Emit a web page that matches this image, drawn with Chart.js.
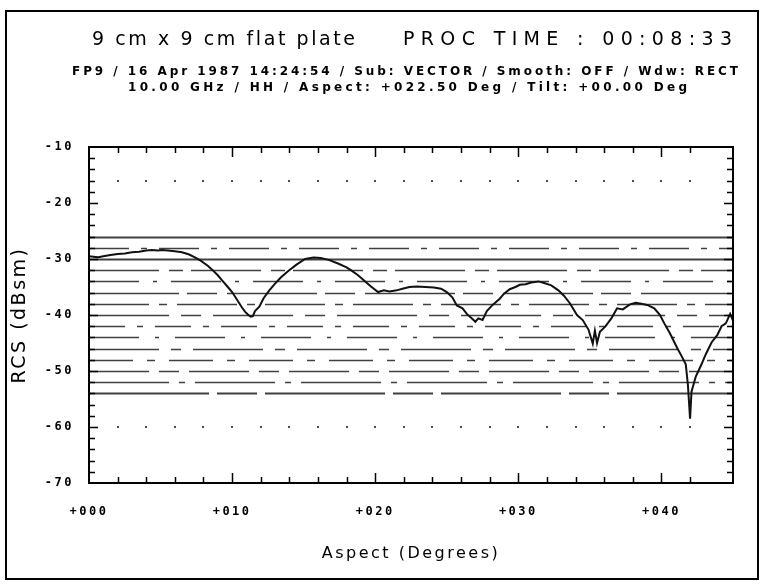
<!DOCTYPE html>
<html>
<head>
<meta charset="utf-8">
<script src="https://cdn.jsdelivr.net/npm/chart.js@4.4.1/dist/chart.umd.min.js"></script>
<style>
  html, body { margin: 0; padding: 0; background: #ffffff; }
  #wrap { position: relative; width: 763px; height: 586px; }
  canvas { display: block; }
</style>
</head>
<body>
<div id="wrap"><canvas id="c" width="763" height="586"></canvas></div>
<script>
// ---- data ----
const aspectDeg = [0, 0.3, 0.65, 1.0, 1.5, 2.0, 2.5, 3.0, 3.5, 4.0, 4.4, 4.8, 5.1, 5.5, 6.0, 6.5, 7.0, 7.4, 7.8, 8.3,
  8.6, 9.0, 9.3, 9.7, 10.0, 10.4, 10.7, 10.9, 11.1, 11.3, 11.45, 11.6, 11.9, 12.2, 12.6, 13.0, 13.4, 13.9, 14.5, 15.1,
  15.7, 16.2, 16.8, 17.4, 18.0, 18.3, 18.8, 19.2, 19.7, 20.2, 20.6, 21.0, 21.5, 21.9, 22.4, 22.9, 23.5, 24.1, 24.6, 25.0,
  25.4, 25.7, 26.1, 26.4, 26.7, 27.0, 27.2, 27.5, 27.8, 28.2, 28.7, 29.0, 29.4, 29.8, 30.1, 30.5, 30.9, 31.4, 31.8, 32.3,
  32.8, 33.2, 33.6, 34.1, 34.5, 34.9, 35.2, 35.35, 35.5, 35.7, 36.1, 36.5, 36.9, 37.3, 37.8, 38.2, 38.6, 39.0, 39.5, 39.9,
  40.2, 40.6, 41.1, 41.4, 41.7, 41.85, 42.0, 42.1, 42.4, 42.8, 43.1, 43.5, 43.9, 44.2, 44.5, 44.8, 45.0];
const rcsDbsm = [-29.5, -29.6, -29.7, -29.5, -29.3, -29.1, -29.0, -28.8, -28.7, -28.5, -28.4, -28.5, -28.4, -28.5, -28.6, -28.8, -29.2, -29.7, -30.3, -31.2,
  -31.9, -32.9, -33.8, -35.0, -35.9, -37.5, -38.7, -39.4, -39.9, -40.3, -40.2, -39.3, -38.5, -37.0, -35.6, -34.4, -33.3, -32.2, -31.0, -30.0,
  -29.75, -29.8, -30.2, -30.8, -31.5, -32.0, -32.9, -33.8, -34.9, -35.9, -35.6, -35.8, -35.6, -35.3, -35.0, -34.9, -35.0, -35.1, -35.3, -35.9,
  -36.9, -38.3, -38.8, -39.8, -40.5, -41.2, -40.6, -40.9, -39.3, -38.2, -37.1, -36.2, -35.4, -35.0, -34.6, -34.5, -34.2, -34.0, -34.3, -34.7,
  -35.6, -36.6, -37.9, -40.0, -40.9, -42.6, -45.1, -42.8, -45.0, -43.0, -42.0, -40.6, -38.8, -39.0, -38.1, -37.8, -38.0, -38.2, -38.8, -40.0,
  -41.5, -43.3, -45.9, -47.3, -48.8, -52.5, -58.5, -53.7, -51.0, -48.8, -47.0, -44.9, -43.6, -42.0, -41.5, -39.8, -41.0];

const xTickValues = [0, 10, 20, 30, 40];
const xTickLabels = ['+000', '+010', '+020', '+030', '+040'];
const yTickValues = [-10, -20, -30, -40, -50, -60, -70];
const yTickLabels = ['-10', '-20', '-30', '-40', '-50', '-60', '-70'];
// horizontal scan streaks and dot rows visible in the scanned original (dB levels)
const scanLineLevels = [-26, -28, -30, -32, -34, -36, -38, -40, -42, -44, -46, -48, -50, -52, -54];
const dotRowLevels = [-16, -60];

const titleText = ['9 cm x 9 cm flat plate', 'PROC TIME : 00:08:33'];
const subtitleLines = ['FP9 / 16 Apr 1987 14:24:54 / Sub: VECTOR / Smooth: OFF / Wdw: RECT',
                       '10.00 GHz / HH / Aspect: +022.50 Deg / Tilt: +00.00 Deg'];
const xAxisTitle = 'Aspect (Degrees)';
const yAxisTitle = 'RCS (dBsm)';

const points = aspectDeg.map((x, i) => ({ x: x, y: rcsDbsm[i] }));

// ---- plugins (decoration) ----
function fitText(ctx, text, x, y, width) {
  ctx.letterSpacing = '0px';
  const w = ctx.measureText(text).width;
  const n = Math.max(text.length - 1, 1);
  const ls = (width - w) / n;
  ctx.letterSpacing = ls + 'px';
  ctx.textAlign = 'left';
  ctx.fillText(text, x, y);
  ctx.letterSpacing = '0px';
}

const decorPlugin = {
  id: 'decor',
  beforeDraw(chart) {
    chart.ctx.letterSpacing = '2.5px';
  },
  beforeDatasetsDraw(chart) {
    const ctx = chart.ctx;
    const { left, right } = chart.chartArea;
    const xs = chart.scales.x, ys = chart.scales.y;
    const dashes = [[], [40, 12, 6, 12], [], [70, 10, 14, 8], [50, 14, 4, 14], [90, 8, 30, 10], [60, 10, 8, 10],
                    [80, 12, 20, 12], [36, 12, 6, 12], [50, 16, 4, 16], [70, 12, 10, 12], [44, 14, 8, 14],
                    [60, 10, 20, 10], [80, 10, 6, 10], [120, 8, 40, 8]];
    ctx.save();
    ctx.strokeStyle = 'rgba(0,0,0,0.75)';
    scanLineLevels.forEach((v, i) => {
      const py = Math.round(ys.getPixelForValue(v)) + 0.5;
      ctx.lineWidth = (i === 0 || i === 2 || i === 14) ? 2 : 1.5;
      ctx.setLineDash(dashes[i % dashes.length]);
      ctx.beginPath();
      ctx.moveTo(left, py);
      ctx.lineTo(right, py);
      ctx.stroke();
    });
    ctx.fillStyle = 'rgba(0,0,0,0.7)';
    dotRowLevels.forEach(v => {
      const py = Math.round(ys.getPixelForValue(v));
      xs.ticks.forEach(t => {
        if (t.value <= xs.min || t.value >= xs.max) return;
        const px = Math.round(xs.getPixelForValue(t.value));
        ctx.fillRect(px - 1, py - 1, 2, 2);
      });
    });
    ctx.restore();
  },
  afterDraw(chart) {
    const ctx = chart.ctx;
    const { left, right, top, bottom } = chart.chartArea;
    const xs = chart.scales.x, ys = chart.scales.y;
    ctx.save();
    ctx.setLineDash([]);
    ctx.strokeStyle = '#000';
    ctx.lineWidth = 1.5;
    xs.ticks.forEach(t => {
      if (t.value <= xs.min || t.value >= xs.max) return;
      const px = Math.round(xs.getPixelForValue(t.value)) + 0.5;
      const len = (t.value % 10 === 0) ? 10 : 6;
      ctx.beginPath();
      ctx.moveTo(px, bottom); ctx.lineTo(px, bottom - len);
      ctx.moveTo(px, top); ctx.lineTo(px, top + len);
      ctx.stroke();
    });
    ys.ticks.forEach(t => {
      if (t.value <= ys.min || t.value >= ys.max) return;
      const py = Math.round(ys.getPixelForValue(t.value)) + 0.5;
      const len = (t.value % 10 === 0) ? 9 : 6;
      ctx.beginPath();
      ctx.moveTo(left, py); ctx.lineTo(left + len, py);
      ctx.moveTo(right, py); ctx.lineTo(right - len, py);
      ctx.stroke();
    });
    ctx.lineWidth = 2;
    ctx.strokeRect(left, top, right - left, bottom - top);
    ctx.strokeRect(6, 11, 752, 568);
    ctx.fillStyle = '#000';
    ctx.textBaseline = 'middle';
    ctx.font = '19px "DejaVu Sans"';
    fitText(ctx, titleText[0], 92, 40, 263);
    fitText(ctx, titleText[1], 403, 40, 329);
    ctx.font = 'bold 12px "DejaVu Sans"';
    fitText(ctx, subtitleLines[0], 72, 72, 666);
    fitText(ctx, subtitleLines[1], 128, 88, 559);
    ctx.restore();
  }
};

const ctx = document.getElementById('c').getContext('2d');
new Chart(ctx, {
  type: 'line',
  data: {
    datasets: [{
      data: points,
      borderColor: '#111',
      borderWidth: 2,
      pointRadius: 0,
      tension: 0,
      fill: false
    }]
  },
  options: {
    responsive: false,
    animation: false,
    events: [],
    layout: { padding: { left: 0, right: 30, top: 147, bottom: 0 } },
    plugins: { legend: { display: false }, title: { display: false }, tooltip: { enabled: false } },
    scales: {
      x: {
        type: 'linear',
        min: 0, max: 45,
        afterFit(s) { s.height = 103; },
        grid: { display: false, drawTicks: false },
        border: { display: false },
        ticks: {
          stepSize: 2, autoSkip: false, maxRotation: 0, padding: 22,
          color: '#000', font: { family: '"DejaVu Sans Mono"', size: 12, weight: 'bold' },
          callback: (v) => { const i = xTickValues.indexOf(v); return i >= 0 ? xTickLabels[i] : ''; }
        },
        title: { display: true, text: xAxisTitle, color: '#000', font: { family: '"DejaVu Sans"', size: 16 }, padding: { top: 0, bottom: 23 } }
      },
      y: {
        type: 'linear',
        min: -70, max: -10,
        afterFit(s) { s.width = 89; },
        grid: { display: false, drawTicks: false },
        border: { display: false },
        ticks: {
          stepSize: 2, autoSkip: false, padding: 15,
          color: '#000', font: { family: '"DejaVu Sans Mono"', size: 12, weight: 'bold' },
          callback: (v) => { const i = yTickValues.indexOf(v); return i >= 0 ? yTickLabels[i] : ''; }
        },
        title: { display: true, text: yAxisTitle, color: '#000', font: { family: '"DejaVu Sans"', size: 19 }, padding: { top: 9, bottom: 0 } }
      }
    }
  },
  plugins: [decorPlugin]
});
</script>
</body>
</html>
